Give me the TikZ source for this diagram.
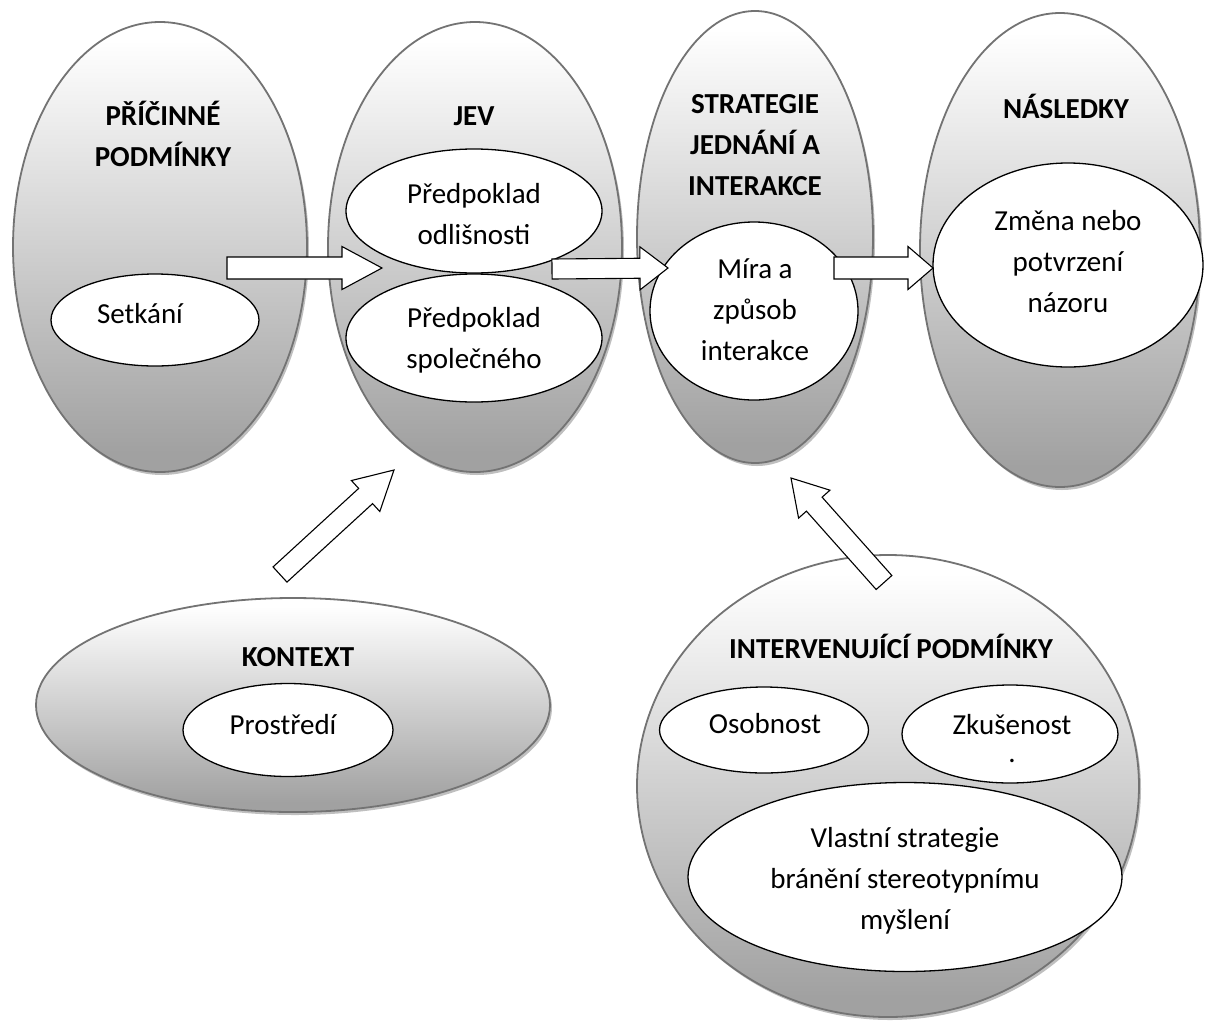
\documentclass[tikz,border=0pt]{standalone}
\usepackage{fontspec}
\setmainfont{Carlito}
\usetikzlibrary{calc, shapes, shadows, positioning}

\pgfdeclareverticalshading{bubblegrad}{100bp}{color(0bp)=(black!37); color(27bp)=(black!37); color(73bp)=(white); color(100bp)=(white)}

\tikzset{
  bubble/.style={ellipse, draw=black!55, line width=1.8pt, shading=bubblegrad, inner sep=0pt,
    drop shadow={shadow xshift=2pt, shadow yshift=-3pt, fill=black!25, opacity=1}},
  inner/.style={ellipse, draw=black, line width=1.3pt, fill=white, inner sep=0pt},
  head/.style={font=\fontsize{29}{41}\selectfont\bfseries, text width=340pt, align=flush center, inner sep=0pt, anchor=base},
  txt/.style={text width=340pt, align=flush center, inner sep=0pt, anchor=base},
  blockarrow/.style={draw=black, line width=1.1pt, fill=white, line join=miter}
}

% block arrow: start, tip, shaft half width, head half width, head length
\newcommand{\blockarrow}[5]{%
  \coordinate (#2-base) at ($(#2)!#5!(#1)$);
  \draw[blockarrow] ($(#1)!#3!90:(#2)$) -- ($(#2-base)!#3!90:(#2)$) -- ($(#2-base)!#4!90:(#2)$)
    -- (#2) -- ($(#2-base)!#4!-90:(#2)$) -- ($(#2-base)!#3!-90:(#2)$) -- ($(#1)!#3!-90:(#2)$) -- cycle;
}

\begin{document}
\begin{tikzpicture}[x=1pt, y=1pt, font=\fontsize{29}{41}\selectfont]
    \useasboundingbox (0,0) rectangle (1205,-1021);

    % big groups
    \node[bubble, minimum width=294pt, minimum height=450pt] (pric) at (160,-247) {};
    \node[bubble, minimum width=294pt, minimum height=450pt] (jev) at (475,-247) {};
    \node[bubble, minimum width=236pt, minimum height=452pt] (strat) at (755,-237) {};
    \node[bubble, minimum width=280pt, minimum height=474pt] (nasl) at (1060,-250) {};
    \node[bubble, minimum width=514pt, minimum height=214pt] (kontext) at (293,-705) {};
    \node[bubble, minimum width=502pt, minimum height=462pt] (interv) at (888,-786) {};

    % inner categories
    \node[inner, minimum width=208pt, minimum height=92pt] (setk) at (155,-320) {};
    \node[inner, minimum width=256pt, minimum height=124pt] (odl) at (474,-211) {};
    \node[inner, minimum width=256pt, minimum height=128pt] (spol) at (474,-338) {};
    \node[inner, minimum width=208pt, minimum height=178pt] (mira) at (754,-311) {};
    \node[inner, minimum width=270pt, minimum height=204pt] (zmena) at (1068,-265) {};
    \node[inner, minimum width=210pt, minimum height=93pt] (prost) at (288,-730) {};
    \node[inner, minimum width=209pt, minimum height=86pt] (osob) at (764,-730) {};
    \node[inner, minimum width=216pt, minimum height=98pt] (zkus) at (1010,-734) {};
    \node[inner, minimum width=434pt, minimum height=189pt] (vlast) at (905,-877) {};

    % arrows
    \coordinate (a1s) at (227,-268);
    \coordinate (a1e) at (382,-268);
    \coordinate (a2s) at (552,-269);
    \coordinate (a2e) at (668,-268);
    \coordinate (a3s) at (834,-268);
    \coordinate (a3e) at (933,-268);
    \coordinate (a4s) at (280,-574.5);
    \coordinate (a4e) at (394,-470);
    \coordinate (a5s) at (884,-582.5);
    \coordinate (a5e) at (791,-478);
    \blockarrow{a1s}{a1e}{11pt}{21.5pt}{40pt}
    \blockarrow{a2s}{a2e}{10pt}{21.5pt}{28pt}
    \blockarrow{a3s}{a3e}{11pt}{21.5pt}{25pt}
    \blockarrow{a4s}{a4e}{10.3pt}{21pt}{38.5pt}
    \blockarrow{a5s}{a5e}{10.5pt}{21pt}{35pt}

    % labels
    \node[head] (h-pric) at (163,-125) {PŘÍČINNÉ\\PODMÍNKY};
    \node[head] (h-jev) at (474,-125) {JEV};
    \node[head] (h-strat) at (755,-113) {STRATEGIE\\JEDNÁNÍ A\\INTERAKCE};
    \node[head] (h-nasl) at (1066,-118) {NÁSLEDKY};
    \node[head] (h-kontext) at (298,-666) {KONTEXT};
    \node[head] (h-interv) at (891,-658) {INTERVENUJÍCÍ PODMÍNKY};
    \node[txt] (t-setk) at (140,-323) {Setkání};
    \node[txt] (t-odl) at (474,-203) {Předpoklad\\odlišnosti};
    \node[txt] (t-spol) at (474,-327) {Předpoklad\\společného};
    \node[txt] (t-mira) at (755,-278) {Míra a\\způsob\\interakce};
    \node[txt] (t-zmena) at (1068,-230) {Změna nebo\\potvrzení\\názoru};
    \node[txt] (t-prost) at (283,-734) {Prostředí};
    \node[txt] (t-osob) at (765,-733) {Osobnost};
    \node[txt] (t-zkus) at (1012,-734) {Zkušenost\\[-13pt].};
    \node[txt] (t-vlast) at (905,-847) {Vlastní strategie\\bránění stereotypnímu\\myšlení};
\end{tikzpicture}
\end{document}
